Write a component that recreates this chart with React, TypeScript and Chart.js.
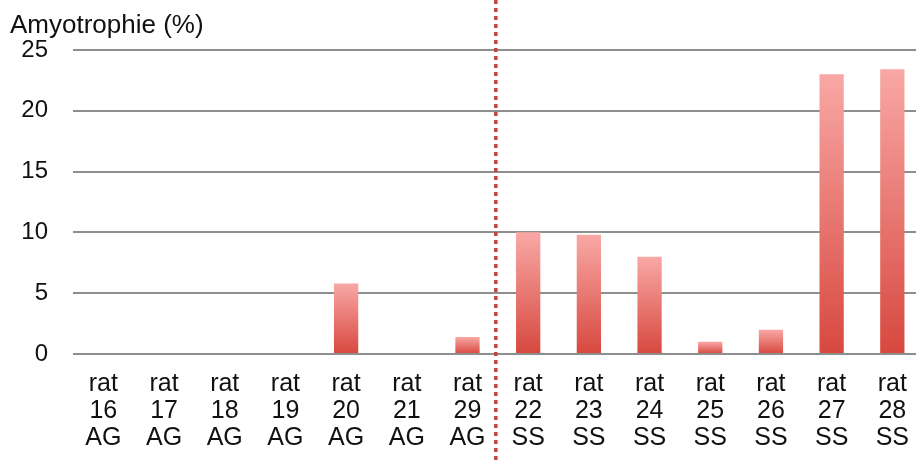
import React, { useEffect, useRef } from "react";
import { Chart, registerables } from "chart.js";

Chart.register(...registerables);

const ratNumbers = ["16", "17", "18", "19", "20", "21", "29", "22", "23", "24", "25", "26", "27", "28"];
const groups = ["AG", "AG", "AG", "AG", "AG", "AG", "AG", "SS", "SS", "SS", "SS", "SS", "SS", "SS"];
const amyotrophie = [0, 0, 0, 0, 5.8, 0, 1.4, 10, 9.8, 8.0, 1.0, 2.0, 23.0, 23.4];
const yTicks = [0, 5, 10, 15, 20, 25];
const titleText = "Amyotrophie (%)";
const separatorAfterIndex = 6;

const FONT = "'Liberation Sans', Arial, sans-serif";
const CANVAS_W = 926;
const CANVAS_H = 469;

export default function App() {
  const ref = useRef<HTMLCanvasElement | null>(null);

  useEffect(() => {
    document.body.style.margin = "0";
    const canvas = ref.current;
    if (!canvas) return;

    const separator = {
      id: "separator",
      afterDraw(chart: any) {
        const x = chart.scales.x;
        const px = (x.getPixelForValue(separatorAfterIndex) + x.getPixelForValue(separatorAfterIndex + 1)) / 2 - 2;
        const ctx = chart.ctx;
        ctx.save();
        ctx.strokeStyle = "#c8403f";
        ctx.lineWidth = 3.5;
        ctx.setLineDash([4, 4]);
        ctx.beginPath();
        ctx.moveTo(px, 0);
        ctx.lineTo(px, chart.height);
        ctx.stroke();
        ctx.restore();
      },
    };

    const chart = new Chart(canvas, {
      type: "bar",
      data: {
        labels: ratNumbers.map((n, i) => ["rat", n, groups[i]]),
        datasets: [
          {
            data: amyotrophie,
            backgroundColor: (c: any) => {
              const chart = c.chart;
              const y = chart.scales && chart.scales.y;
              if (!y || c.raw === undefined) return "#e8625c";
              const top = y.getPixelForValue(c.raw);
              const bottom = y.getPixelForValue(0);
              if (!isFinite(top) || !isFinite(bottom) || bottom - top < 1) return "#e8625c";
              const g = chart.ctx.createLinearGradient(0, top, 0, bottom);
              g.addColorStop(0, "#f9a8a5");
              g.addColorStop(1, "#d7483f");
              return g;
            },
            borderWidth: 0,
            barPercentage: 0.8,
            categoryPercentage: 0.5,
          },
        ],
      },
      options: {
        responsive: false,
        animation: false,
        layout: { padding: { left: 10, right: 0, top: 0, bottom: 0 } },
        plugins: {
          legend: { display: false },
          tooltip: { enabled: false },
          title: {
            display: true,
            text: titleText,
            align: "start",
            color: "#111",
            font: { family: FONT, size: 26, weight: "normal", lineHeight: 1.15 },
            padding: { top: 11, bottom: 9 },
          },
        },
        scales: {
          x: {
            grid: { display: false, drawTicks: false },
            border: { display: false },
            ticks: {
              color: "#111",
              font: { family: FONT, size: 25, lineHeight: 1.08 },
              padding: 17,
              maxRotation: 0,
              autoSkip: false,
            },
          },
          y: {
            min: 0,
            max: 25,
            afterBuildTicks: (s: any) => {
              s.ticks = yTicks.map((v) => ({ value: v }));
            },
            afterFit: (s: any) => {
              s.width = 63;
            },
            grid: { color: "#8e8e8e", lineWidth: 2, drawTicks: false },
            border: { display: false },
            ticks: {
              color: "#111",
              font: { family: FONT, size: 24 },
              padding: 25,
            },
          },
        },
      },
      plugins: [separator],
    });

    return () => chart.destroy();
  }, []);

  return (
    <div style={{ width: 916, height: 463, overflow: "hidden" }}>
      <canvas ref={ref} width={CANVAS_W} height={CANVAS_H} style={{ display: "block" }} />
    </div>
  );
}
